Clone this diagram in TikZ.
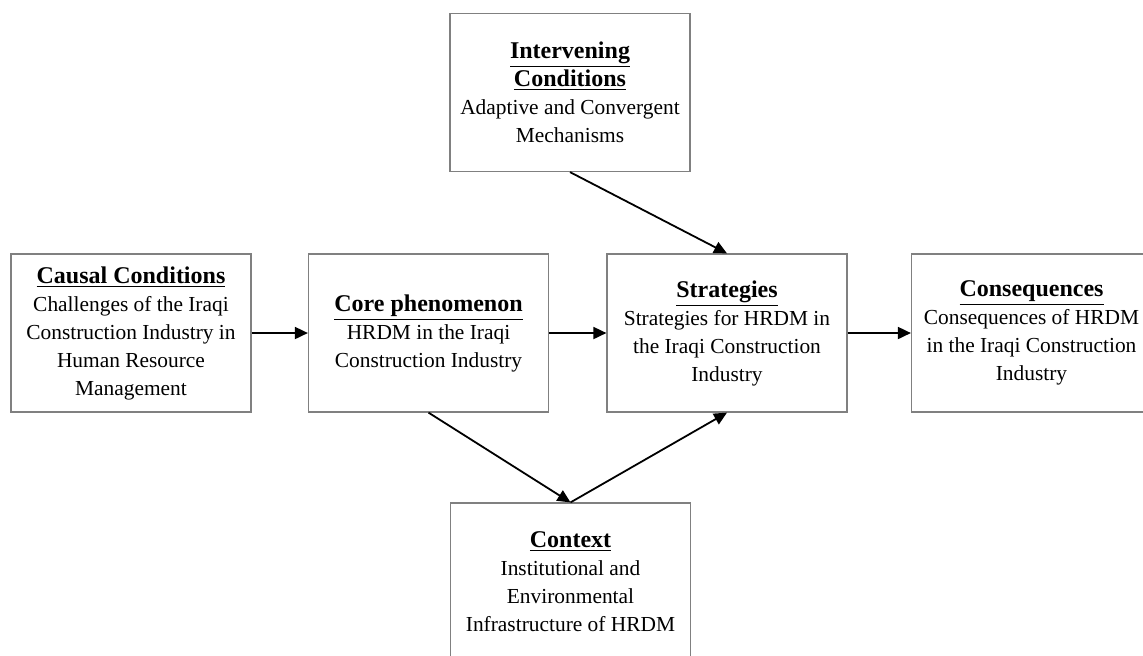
\documentclass[tikz,border=0pt]{standalone}
\usepackage{fontspec}
\setmainfont{Liberation Serif}
\usetikzlibrary{arrows.meta}
\newcommand{\boxtitle}[1]{{\fontsize{12}{14}\selectfont\bfseries\underline{#1}}}

\begin{document}
\begin{tikzpicture}[x=0.5pt, y=-0.5pt]
\tikzstyle{every node}=[draw=black!50, line width=0.6pt, minimum width=120pt, minimum height=79pt, align=center, inner sep=2pt, font=\fontsize{10.7}{14}\selectfont];
\tikzstyle{link}=[line width=0.9pt, -{Triangle[length=6.5pt,width=6pt]}];
\useasboundingbox (0,0) rectangle (1143,655);
\clip (0,0) rectangle (1143,655);
\node (int) at (570,92.5) {\boxtitle{Intervening}\\ \boxtitle{Conditions}\\ Adaptive and Convergent\\ Mechanisms};
\node (cau) at (131,333) {\boxtitle{Causal Conditions}\\ Challenges of the Iraqi\\ Construction Industry in\\ Human Resource\\ Management};
\node (core) at (428.5,333) {\boxtitle{Core phenomenon}\\ HRDM in the Iraqi\\ Construction Industry};
\node (str) at (727,333) {\boxtitle{Strategies}\\ Strategies for HRDM in\\ the Iraqi Construction\\ Industry};
\node (con) at (1031.5,333) {\boxtitle{Consequences}\\ Consequences of HRDM\\ in the Iraqi Construction\\ Industry};
\node (ctx) at (570.5,582) {\boxtitle{Context}\\ Institutional and\\ Environmental\\ Infrastructure of HRDM};
\draw[link] (cau) -- (core); % main line
\draw[link] (core) -- (str);
\draw[link] (str) -- (con);
\draw[link] (int.south) -- (str.north);
\draw[link] (core.south) -- (ctx.north);
\draw[link] (ctx.north) -- (str.south);
\end{tikzpicture}
\end{document}
